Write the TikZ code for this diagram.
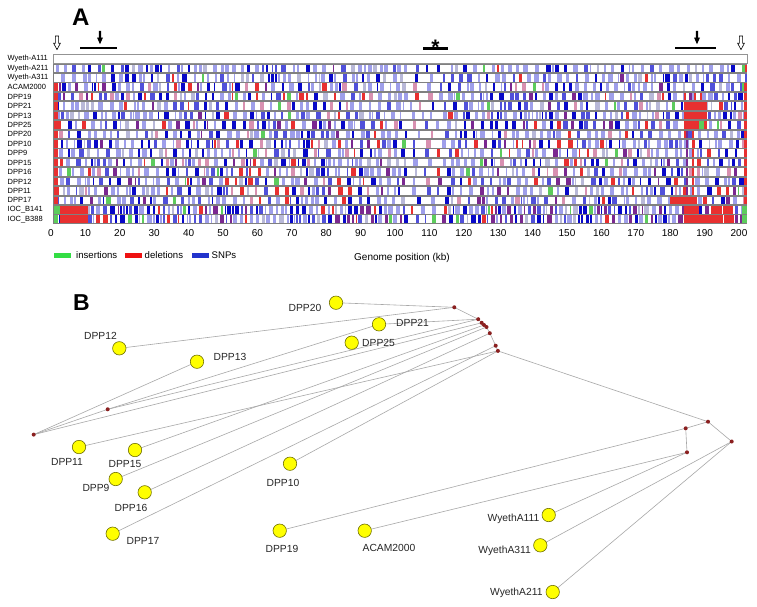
\documentclass[tikz,border=0pt]{standalone}
\usepackage{fontspec}
\setmainfont{Liberation Sans}
\definecolor{cL}{HTML}{9E9EEA}
\definecolor{cM}{HTML}{5050DA}
\definecolor{cD}{HTML}{0808C8}
\definecolor{cG}{HTML}{B8B8D8}
\definecolor{cP}{HTML}{7A2890}
\definecolor{cR}{HTML}{E83030}
\definecolor{cN}{HTML}{5CCC5C}
\definecolor{cK}{HTML}{D890B0}
\definecolor{sepc}{HTML}{808080}
\definecolor{edgec}{HTML}{A8A8A8}
\definecolor{leafc}{HTML}{FFFF00}
\definecolor{leafb}{HTML}{707000}
\definecolor{medc}{HTML}{8B2020}
\definecolor{legG}{HTML}{33DD44}
\definecolor{legR}{HTML}{EE1111}
\definecolor{legB}{HTML}{2233CC}
\pgfdeclarelayer{back}
\pgfdeclarelayer{bg}
\pgfsetlayers{back,bg,main}

\newcommand\PickCol[2]{%
  \ifcase#2\relax
    \ifnum#1<41 \def\qcol{cL}\else
    \ifnum#1<61 \def\qcol{cM}\else
    \ifnum#1<80 \def\qcol{cD}\else
    \ifnum#1<87 \def\qcol{cG}\else
    \ifnum#1<90 \def\qcol{cP}\else
    \ifnum#1<93 \def\qcol{cR}\else
    \ifnum#1<95 \def\qcol{cN}\else
    \def\qcol{cL}\fi\fi\fi\fi\fi\fi\fi
  \or
    \ifnum#1<37 \def\qcol{cL}\else
    \ifnum#1<54 \def\qcol{cM}\else
    \ifnum#1<71 \def\qcol{cD}\else
    \ifnum#1<78 \def\qcol{cG}\else
    \ifnum#1<84 \def\qcol{cP}\else
    \ifnum#1<91 \def\qcol{cR}\else
    \ifnum#1<93 \def\qcol{cN}\else
    \def\qcol{cK}\fi\fi\fi\fi\fi\fi\fi
  \else
    \ifnum#1<24 \def\qcol{cL}\else
    \ifnum#1<40 \def\qcol{cM}\else
    \ifnum#1<62 \def\qcol{cD}\else
    \ifnum#1<79 \def\qcol{cP}\else
    \ifnum#1<88 \def\qcol{cR}\else
    \ifnum#1<92 \def\qcol{cN}\else
    \def\qcol{cG}\fi\fi\fi\fi\fi\fi
  \fi}

\newcommand\StripeRow[4]{%
  \pgfmathsetseed{#3}%
  \def\qx{53.6}%
  \loop
    \pgfmathrandominteger{\qg}{1}{#2}%
    \pgfmathrandominteger{\qw}{3}{9}%
    \pgfmathrandominteger{\qc}{1}{100}%
    \pgfmathsetmacro\qx{\qx+\qg}%
    \ifdim\qx pt>405pt \ifdim\qx pt<447pt \pgfmathsetmacro\qx{\qx+5}\fi\fi
    \pgfmathsetmacro\qe{min(\qx+\qw/2,746.8)}%
    \PickCol{\qc}{#4}%
    \ifdim\qx pt<746.5pt \fill[\qcol] (\qx,#1-3.8) rectangle (\qe,#1+3.8);\fi
    \let\qx\qe
  \ifdim\qx pt<746.5pt\repeat
}
\newcommand\Blk[4]{\pgfmathsetmacro\by{59+9.42*#1}\fill[#4] (#2,\by-3.8) rectangle (#3,\by+3.8);}

\tikzset{
  rowlbl/.style={anchor=west, inner sep=0, font=\fontsize{7.5}{8}\selectfont},
  axlbl/.style={inner sep=0, font=\fontsize{10}{12}\selectfont},
  leglbl/.style={anchor=west, inner sep=0, font=\fontsize{9.6}{11}\selectfont},
  netln/.style={draw=edgec, line width=0.6pt},
  leafnd/.style={circle, fill=leafc, draw=leafb, line width=0.6pt, minimum size=13.4pt, inner sep=0},
  mednd/.style={circle, fill=medc, minimum size=4pt, inner sep=0},
  lbl/.style={inner sep=0, font=\fontsize{10.3}{12}\selectfont, text=black!85},
  panel/.style={inner sep=0, anchor=base west, font=\fontsize{24}{26}\bfseries\selectfont},
}

\begin{document}
\begin{tikzpicture}[x=1pt,y=-1pt]
\begin{pgfonlayer}{back}
\fill[white] (0,0) rectangle (757,606);
\end{pgfonlayer}
\useasboundingbox (0,0) rectangle (757,606);

% ---------------- Panel A ----------------
\node[panel] (pA) at (72,25) {A};

% markers
\draw[black, fill=white, line width=0.6pt] (55.4,36)--(58.6,36)--(58.6,43.2)--(60.4,43.2)--(57,49.6)--(53.6,43.2)--(55.4,43.2)--cycle;
\draw[black, fill=white, line width=0.6pt] (739.4,36)--(742.6,36)--(742.6,43.2)--(744.4,43.2)--(741,49.6)--(737.6,43.2)--(739.4,43.2)--cycle;
\fill[black] (98.8,30.8)--(101.2,30.8)--(101.2,37.5)--(103,37.5)--(100,44.2)--(97,37.5)--(98.8,37.5)--cycle;
\fill[black] (695.8,30.8)--(698.2,30.8)--(698.2,37.5)--(700,37.5)--(697,44.2)--(694,37.5)--(695.8,37.5)--cycle;
\fill[black] (80,46.6) rectangle (117,48.9);
\fill[black] (675,46.6) rectangle (716,48.9);
\fill[black] (423,47.4) rectangle (448,49.7);
\node[inner sep=0, anchor=base, font=\fontsize{21}{22}\bfseries\selectfont] (star) at (435.5,54.5) {*};

% tracks
\fill[sepc] (53,63.9) rectangle (747.3,223.9);
\draw[sepc!85, fill=white, line width=0.8pt] (53.4,54.8) rectangle (746.9,63.0);
\foreach \i/\t/\g in {1/0/7,2/0/7,3/1/7,4/1/6,5/1/7,6/1/6,7/1/7,8/1/7,9/1/7,10/1/7,11/1/6,12/1/7,13/1/7,14/1/7,15/1/7,16/2/3,17/2/3}{
  \pgfmathsetmacro\yy{59+9.42*\i}
  \pgfmathtruncatemacro\sd{\i*37+11}
  \fill[white] (53.6,\yy-3.8) rectangle (746.8,\yy+3.8);
  \StripeRow{\yy}{\g}{\sd}{\t}
}
% special blocks
\foreach \i in {3,...,15}{\Blk{\i}{53.6}{57.6}{cR}}
\foreach \i in {4,...,15}{\Blk{\i}{743.6}{746.8}{cR}}
\Blk{1}{745.2}{746.8}{cR}
\Blk{3}{741.5}{744}{cN}\Blk{3}{744}{746.8}{cR}
\Blk{4}{684}{686}{cR}\Blk{4}{689}{691.5}{cP}\Blk{4}{694}{696}{cR}\Blk{4}{700}{702}{cR}
\Blk{5}{684}{707}{cR}
\Blk{6}{684}{707}{cR}
\Blk{7}{684}{699}{cR}\Blk{7}{699}{704}{cN}\Blk{7}{704}{707}{cR}
\foreach \i in {8,...,14}{\Blk{\i}{686}{688}{cP}\Blk{\i}{692}{693.5}{cR}}
\Blk{15}{670}{697}{cR}
\Blk{16}{53.6}{60}{cN}\Blk{16}{60}{88}{cR}\Blk{16}{684}{699}{cR}\Blk{16}{711}{720}{cR}\Blk{16}{723}{733}{cR}\Blk{16}{742}{746.8}{cN}
\Blk{17}{53.6}{58}{cN}\Blk{17}{60}{88}{cR}\Blk{17}{684}{722}{cR}\Blk{17}{724}{734}{cR}\Blk{17}{742}{746.8}{cN}

% row labels
\foreach \n [count=\k from 0] in {Wyeth-A111,Wyeth-A211,Wyeth-A311,ACAM2000,DPP19,DPP21,DPP13,DPP25,DPP20,DPP10,DPP9,DPP15,DPP16,DPP12,DPP11,DPP17,IOC\_B141,IOC\_B388}{
  \node[rowlbl] (r\k) at (7.5,{59+9.42*\k}) {\n};
}
% axis
\foreach \v in {0,10,...,200}{
  \node[axlbl] (ax\v) at ({51+3.44*\v},233.5) {\v};
}
\node[axlbl] (axt) at (402,258) {Genome position (kb)};
% legend
\fill[legG] (54,252.6) rectangle (71,258);
\node[leglbl] (lgI) at (76,255.3) {insertions};
\fill[legR] (125,252.6) rectangle (141.5,258);
\node[leglbl] (lgD) at (144.5,255.3) {deletions};
\fill[legB] (192,252.6) rectangle (208.5,258);
\node[leglbl] (lgS) at (211.5,255.3) {SNPs};

% ---------------- Panel B ----------------
\node[panel, font=\fontsize{23}{25}\bfseries\selectfont] (pB) at (73,310) {B};

% median vectors
\node[mednd] (h1) at (454.3,307.3) {};
\node[mednd] (h2) at (478.2,319.2) {};
\node[mednd] (h3) at (481.7,322.8) {};
\node[mednd] (h4) at (484,325) {};
\node[mednd] (h5) at (486.5,327) {};
\node[mednd] (h6) at (489.8,333.2) {};
\node[mednd] (h7) at (495.7,345.7) {};
\node[mednd] (h8) at (497.9,350.9) {};
\node[mednd] (r1) at (708,421.7) {};
\node[mednd] (r2) at (685.7,428.3) {};
\node[mednd] (r3) at (687,452.3) {};
\node[mednd] (r4) at (731.7,441.5) {};
\node[mednd] (s1) at (107.7,409.3) {};
\node[mednd] (s2) at (33.7,434.6) {};

% samples
\node[leafnd] (DPP20) at (336,302.7) {};
\node[leafnd] (DPP21) at (379,324.3) {};
\node[leafnd] (DPP25) at (351.7,342.7) {};
\node[leafnd] (DPP12) at (119.3,348.3) {};
\node[leafnd] (DPP13) at (197,361.7) {};
\node[leafnd] (DPP11) at (79,447) {};
\node[leafnd] (DPP15) at (135,450) {};
\node[leafnd] (DPP9) at (115.7,479) {};
\node[leafnd] (DPP16) at (144.7,492.3) {};
\node[leafnd] (DPP17) at (112.7,533.7) {};
\node[leafnd] (DPP10) at (290,463.7) {};
\node[leafnd] (DPP19) at (279.7,530.7) {};
\node[leafnd] (ACAM2000) at (364.7,530.7) {};
\node[leafnd] (WA111) at (548.7,515) {};
\node[leafnd] (WA311) at (540.3,545.3) {};
\node[leafnd] (WA211) at (552.7,592) {};

% labels
\node[lbl] (lDPP20) at (305,307.5) {DPP20};
\node[lbl, anchor=west] (lDPP21) at (396,322.5) {DPP21};
\node[lbl, anchor=west] (lDPP25) at (362,343) {DPP25};
\node[lbl] (lDPP12) at (100.5,335.5) {DPP12};
\node[lbl] (lDPP13) at (230,356.5) {DPP13};
\node[lbl] (lDPP11) at (67,462) {DPP11};
\node[lbl] (lDPP15) at (125,463.5) {DPP15};
\node[lbl] (lDPP9) at (96,488) {DPP9};
\node[lbl] (lDPP16) at (131,508) {DPP16};
\node[lbl] (lDPP17) at (143,540.5) {DPP17};
\node[lbl] (lDPP10) at (283,482.5) {DPP10};
\node[lbl] (lDPP19) at (282,548.5) {DPP19};
\node[lbl] (lACAM) at (389,548) {ACAM2000};
\node[lbl, anchor=east] (lWA111) at (539.5,519) {WyethA111};
\node[lbl, anchor=east] (lWA311) at (531,550.5) {WyethA311};
\node[lbl, anchor=east] (lWA211) at (542.7,593) {WyethA211};

% connectors
\begin{pgfonlayer}{bg}
\draw[netln] (DPP20.center) -- (h1.center);
\draw[netln] (DPP12.center) -- (h1.center);
\draw[netln] (h1.center) -- (h2.center) -- (h3.center) -- (h4.center) -- (h5.center) -- (h6.center) -- (h7.center) -- (h8.center);
\draw[netln] (h8.center) -- (r1.center);
\draw[netln] (r1.center) -- (r2.center);
\draw[netln] (r1.center) -- (r4.center);
\draw[netln] (r2.center) -- (r3.center);
\draw[netln] (r2.center) -- (DPP19.center);
\draw[netln] (r3.center) -- (ACAM2000.center);
\draw[netln] (r3.center) -- (WA111.center);
\draw[netln] (r4.center) -- (WA311.center);
\draw[netln] (r4.center) -- (WA211.center);
\draw[netln] (DPP21.center) -- (h2.center);
\draw[netln] (s1.center) -- (h2.center);
\draw[netln] (s1.center) -- (DPP21.center);
\draw[netln] (s2.center) -- (s1.center);
\draw[netln] (s2.center) -- (DPP13.center);
\draw[netln] (s2.center) -- (h3.center);
\draw[netln] (DPP11.center) -- (h8.center);
\draw[netln] (DPP15.center) -- (h4.center);
\draw[netln] (DPP9.center) -- (h5.center);
\draw[netln] (DPP16.center) -- (h6.center);
\draw[netln] (DPP17.center) -- (h7.center);
\draw[netln] (DPP10.center) -- (h8.center);
\end{pgfonlayer}
\end{tikzpicture}
\end{document}
